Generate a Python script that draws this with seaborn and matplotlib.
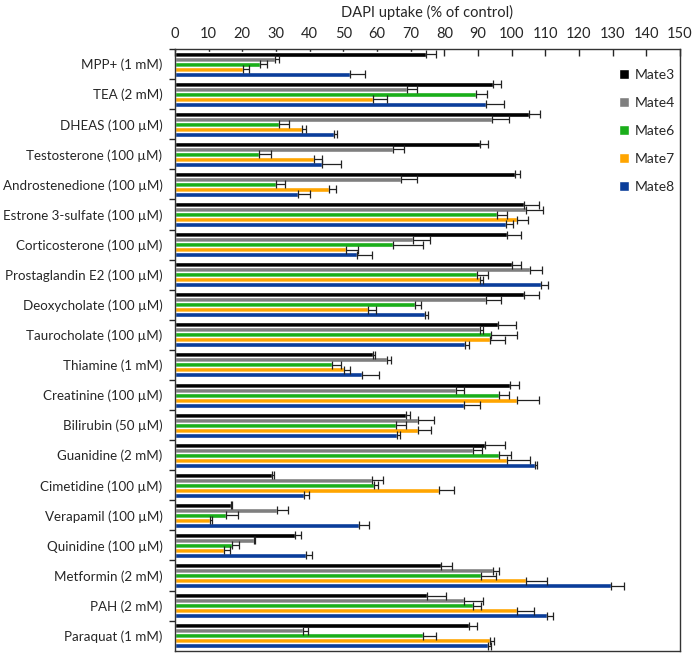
import numpy as np
import pandas as pd
import matplotlib.pyplot as plt
import seaborn as sns

# substrates tested (top to bottom)
compounds = ["MPP+ (1 mM)", "TEA (2 mM)", "DHEAS (100 µM)", "Testosterone (100 µM)",
             "Androstenedione (100 µM)", "Estrone 3-sulfate (100 µM)", "Corticosterone (100 µM)",
             "Prostaglandin E2 (100 µM)", "Deoxycholate (100 µM)", "Taurocholate (100 µM)",
             "Thiamine (1 mM)", "Creatinine (100 µM)", "Bilirubin (50 µM)", "Guanidine (2 mM)",
             "Cimetidine (100 µM)", "Verapamil (100 µM)", "Quinidine (100 µM)",
             "Metformin (2 mM)", "PAH (2 mM)", "Paraquat (1 mM)"]

transporters = ["Mate3", "Mate4", "Mate6", "Mate7", "Mate8"]

# DAPI uptake, % of control
mate3 = [74.5, 94.4, 105.2, 90.7, 101.0, 103.8, 98.6, 100.0, 103.8, 95.9,
         58.7, 99.5, 68.6, 92.1, 28.9, 16.6, 35.6, 79.0, 74.9, 87.3]
mate3_err = [3.0, 2.6, 3.2, 2.2, 1.6, 4.4, 4.2, 2.7, 4.3, 5.3,
             0.7, 2.8, 1.2, 5.9, 0.4, 0.3, 1.7, 3.2, 5.5, 2.3]
mate4 = [29.7, 69.0, 94.3, 64.7, 67.0, 104.4, 70.7, 105.6, 92.3, 90.5,
         63.0, 83.5, 72.1, 88.4, 58.4, 30.4, 23.6, 94.4, 85.9, 38.1]
mate4_err = [1.3, 3.0, 5.0, 3.4, 5.0, 5.0, 5.1, 3.3, 4.6, 1.0,
             1.3, 2.4, 4.9, 2.9, 3.3, 3.3, 0.3, 1.9, 5.7, 1.5]
mate6 = [25.2, 89.4, 31.0, 25.0, 30.0, 95.6, 64.9, 89.8, 71.3, 94.0,
         46.7, 96.3, 65.6, 96.3, 59.1, 15.1, 16.8, 90.9, 88.4, 73.8]
mate6_err = [2.2, 3.2, 3.0, 3.5, 2.8, 3.1, 8.9, 3.2, 1.8, 7.6,
             2.6, 2.9, 3.0, 3.4, 1.1, 3.5, 2.2, 4.6, 2.4, 3.7]
mate7 = [20.3, 58.7, 37.6, 41.4, 45.7, 101.6, 50.8, 90.6, 57.4, 93.7,
         50.3, 101.5, 72.1, 98.7, 78.4, 10.4, 14.7, 104.2, 101.5, 93.6]
mate7_err = [1.7, 4.3, 1.2, 2.2, 2.0, 3.3, 3.5, 1.0, 2.4, 4.3,
             1.7, 6.6, 4.1, 6.7, 4.5, 0.5, 1.8, 6.2, 5.2, 1.1]
mate8 = [52.0, 92.3, 47.3, 43.7, 36.6, 98.3, 54.2, 108.6, 74.2, 86.1,
         55.7, 85.8, 66.1, 106.9, 38.4, 54.6, 38.8, 129.4, 110.4, 93.1]
mate8_err = [4.6, 5.4, 0.7, 5.5, 3.5, 2.2, 4.2, 2.1, 1.0, 1.3,
             4.9, 4.8, 0.7, 0.7, 1.4, 3.1, 1.9, 4.1, 1.8, 0.8]

colors = ["#000000", "#7f7f7f", "#1aae1a", "#ffa500", "#0a3d9a"]

values = [mate3, mate4, mate6, mate7, mate8]
errors = [mate3_err, mate4_err, mate6_err, mate7_err, mate8_err]

# long format for seaborn
df = pd.DataFrame({
    "compound": np.tile(compounds, len(transporters)),
    "transporter": np.repeat(transporters, len(compounds)),
    "uptake": np.concatenate(values),
})

sns.set_style("white")
plt.rcParams["font.family"] = ["Lato", "DejaVu Sans"]

fig = plt.figure(figsize=(6.97, 6.54), dpi=100)
ax = fig.add_axes([0.251, 0.005, 0.7245, 0.92])

sns.barplot(data=df, y="compound", x="uptake", hue="transporter", order=compounds,
            hue_order=transporters, palette=colors, orient="h", width=0.83,
            saturation=1, errorbar=None, ax=ax)

# one-sided error bars, hue level by hue level
for cont, err in zip(ax.containers, errors):
    xs = [b.get_width() for b in cont]
    ys = [b.get_y() + b.get_height() / 2 for b in cont]
    ax.errorbar(xs, ys, xerr=[np.zeros(len(err)), err], fmt="none", ecolor="#222222",
                elinewidth=0.9, capsize=2.6, capthick=0.9, zorder=5)

ax.set_xlim(0, 150)
ax.set_ylim(len(compounds) - 0.5, -0.5)
ax.set_xticks(np.arange(0, 151, 10))
ax.xaxis.set_ticks_position("top")
ax.xaxis.set_label_position("top")
ax.set_xlabel("DAPI uptake (% of control)", fontsize=10.5, labelpad=7)
ax.set_ylabel("")
ax.tick_params(axis="x", direction="in", length=5, width=1, labelsize=10.5, pad=6)

# y ticks sit between the groups
ax.set_yticks(np.arange(len(compounds)) - 0.5, minor=True)
ax.tick_params(axis="y", which="major", length=0, labelsize=9.6, pad=9)
ax.tick_params(axis="y", which="minor", direction="out", length=4, width=1, left=True)

for s in ax.spines.values():
    s.set_visible(True)
    s.set_color("#333333")
    s.set_linewidth(1)

ax.legend(loc="upper right", bbox_to_anchor=(1.015, 0.988), frameon=False, fontsize=10,
          handlelength=0.7, handleheight=0.7, handletextpad=0.4, labelspacing=1.15)

plt.savefig("out.png", dpi=100)
